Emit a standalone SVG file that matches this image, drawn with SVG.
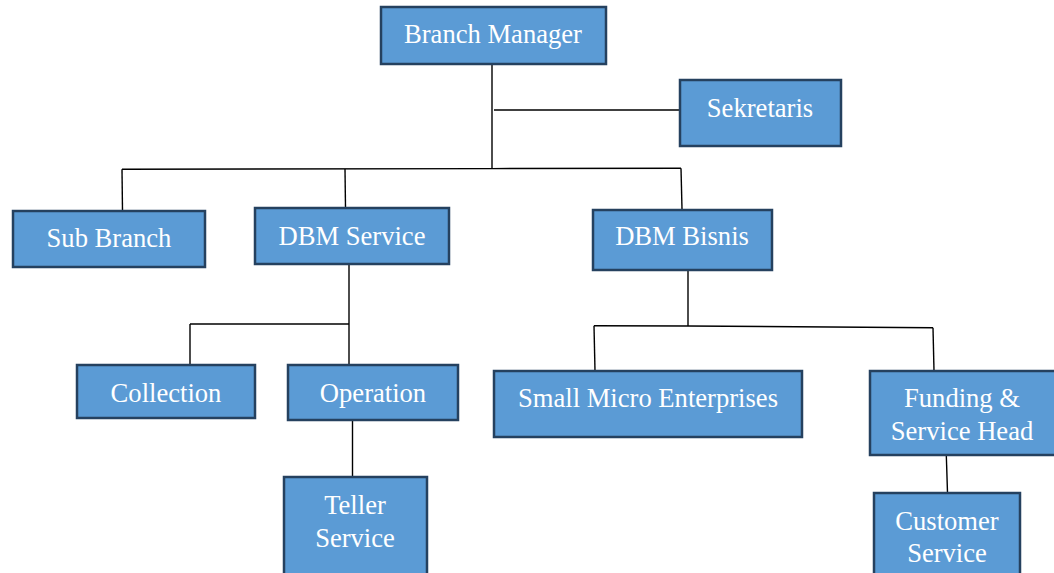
<svg xmlns="http://www.w3.org/2000/svg" width="1054" height="573" viewBox="0 0 1054 573">
<style>
.box{fill:#5B9BD5;stroke:#25415F;stroke-width:2.5}
.t{font-family:"Liberation Serif","Times New Roman",serif;font-size:26.6px;fill:#FFFFFF;text-anchor:middle}
.c{fill:none;stroke:#000000;stroke-width:1.4}
</style>
<rect width="1054" height="573" fill="#FFFFFF"/>
<g id="connectors">
<path class="c" d="M492 65V169"/>
<path class="c" d="M494 110H680"/>
<path class="c" d="M122 169.3L492 168.6L681 168.3"/>
<path class="c" d="M122 169.3L122.5 211"/>
<path class="c" d="M345 169L345.5 208"/>
<path class="c" d="M681 168.3L682 209"/>
<path class="c" d="M349 265V365"/>
<path class="c" d="M190 324H349"/>
<path class="c" d="M190 324V365"/>
<path class="c" d="M352.5 421V477"/>
<path class="c" d="M688 270V326"/>
<path class="c" d="M594 325.7L688 326L933 327.7"/>
<path class="c" d="M594 325.7L595 371"/>
<path class="c" d="M933 327.7L934 371"/>
<path class="c" d="M946.3 455L947.5 493"/>
</g>
<g id="branch-manager"><rect class="box" x="381" y="7" width="225" height="57"/><text class="t" x="493" y="43">Branch Manager</text></g>
<g id="sekretaris"><rect class="box" x="680" y="80" width="161" height="66"/><text class="t" x="760" y="117">Sekretaris</text></g>
<g id="sub-branch"><rect class="box" x="13" y="211" width="192" height="56"/><text class="t" x="109" y="247">Sub Branch</text></g>
<g id="dbm-service"><rect class="box" x="255" y="208" width="194" height="56"/><text class="t" x="352" y="245">DBM Service</text></g>
<g id="dbm-bisnis"><rect class="box" x="593" y="210" width="179" height="60"/><text class="t" x="682" y="245">DBM Bisnis</text></g>
<g id="collection"><rect class="box" x="77" y="365" width="178" height="53"/><text class="t" x="166" y="402">Collection</text></g>
<g id="operation"><rect class="box" x="288" y="365" width="170" height="55"/><text class="t" x="373" y="402">Operation</text></g>
<g id="teller-service"><rect class="box" x="284" y="477" width="143" height="110"/><text class="t" x="355" y="514">Teller</text><text class="t" x="355" y="547">Service</text></g>
<g id="small-micro-enterprises"><rect class="box" x="494" y="371" width="308" height="66"/><text class="t" x="648" y="407">Small Micro Enterprises</text></g>
<g id="funding-service-head"><rect class="box" x="870" y="371" width="190" height="84"/><text class="t" x="962" y="407">Funding &amp;</text><text class="t" x="962" y="440">Service Head</text></g>
<g id="customer-service"><rect class="box" x="874" y="493" width="146" height="100"/><text class="t" x="947" y="530">Customer</text><text class="t" x="947" y="562">Service</text></g>
</svg>
